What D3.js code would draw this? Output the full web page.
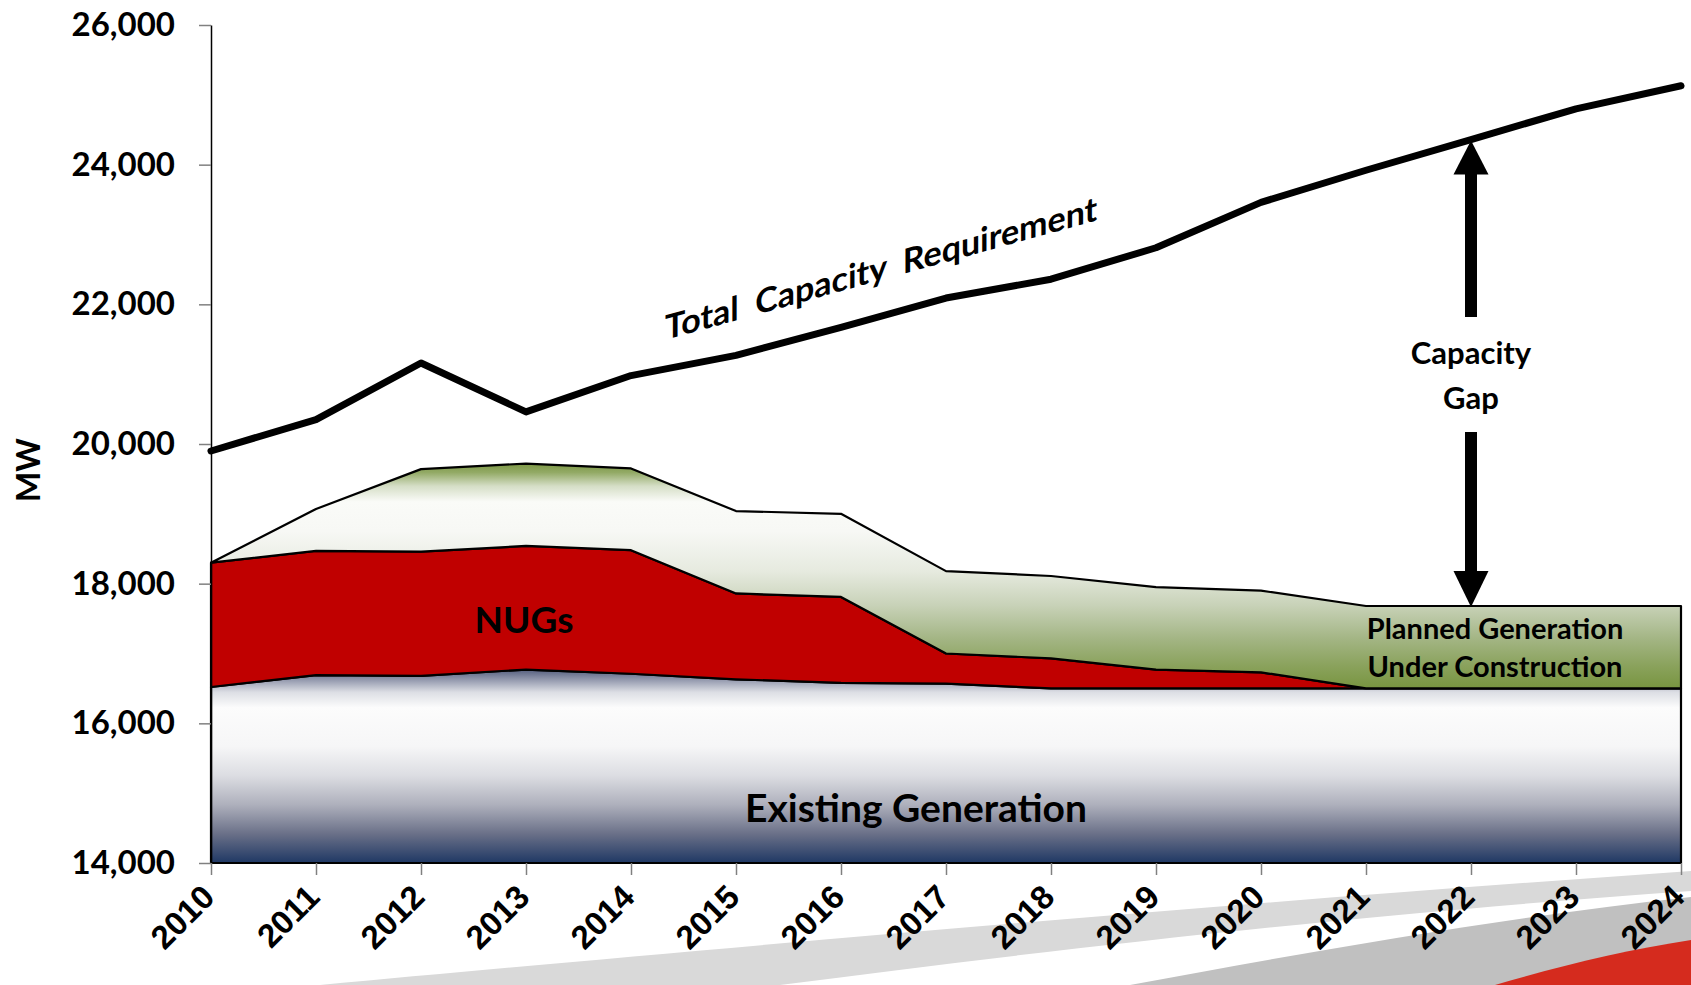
<!DOCTYPE html>
<html>
<head>
<meta charset="utf-8">
<script src="https://cdn.jsdelivr.net/npm/d3@7"></script>
<style>
  body { margin: 0; background: #fff; }
  text { font-family: Lato, "Open Sans", sans-serif; font-weight: bold; fill: #000; }
</style>
</head>
<body>
<script>
// values (MW)
var years = [2010, 2011, 2012, 2013, 2014, 2015, 2016, 2017, 2018, 2019, 2020, 2021, 2022, 2023, 2024];
var existing = [16520, 16690, 16680, 16770, 16710, 16630, 16580, 16570, 16500, 16500, 16500, 16500, 16500, 16500, 16500];
var nugs = [1780, 1780, 1780, 1770, 1770, 1230, 1230, 430, 430, 270, 230, 0, 0, 0, 0];
var planned = [0, 600, 1180, 1180, 1170, 1180, 1190, 1180, 1180, 1180, 1170, 1180, 1180, 1180, 1180];
var totalReq = [19900, 20350, 21160, 20460, 20980, 21270, 21670, 22090, 22360, 22810, 23460, 23920, 24360, 24800, 25130];
var yTicks = [14000, 16000, 18000, 20000, 22000, 24000, 26000];
var gapYear = 2022;

var width = 1691, height = 985;

var svg = d3.select("body").append("svg")
    .attr("width", width)
    .attr("height", height);

var x = d3.scaleLinear().domain([2010, 2024]).range([211, 1681]);
var y = d3.scaleLinear().domain([14000, 26000]).range([863, 25]);

// gradients
var defs = svg.append("defs");

var gExist = defs.append("linearGradient")
    .attr("id", "gradExisting")
    .attr("gradientUnits", "userSpaceOnUse")
    .attr("x1", 0).attr("x2", 0)
    .attr("y1", y(16780)).attr("y2", y(14000));
[[0, "#505a7a"], [0.05, "#8c92a8"], [0.12, "#dcdee4"], [0.2, "#fcfcfc"], [0.4, "#f6f6f7"],
 [0.55, "#dcdde2"], [0.7, "#aeb0bc"], [0.85, "#6a7088"], [1, "#1f3864"]].forEach(function(s){
    gExist.append("stop").attr("offset", s[0]).attr("stop-color", s[1]);
});

var gPlan = defs.append("linearGradient")
    .attr("id", "gradPlanned")
    .attr("gradientUnits", "userSpaceOnUse")
    .attr("x1", 0).attr("x2", 0)
    .attr("y1", y(19720)).attr("y2", y(16500));
[[0, "#7c9744"], [0.04, "#93aa66"], [0.1, "#d5dec6"], [0.17, "#fafbf8"], [0.3, "#f7f8f5"],
 [0.48, "#e6eadf"], [0.63, "#c8d2b8"], [0.78, "#a3b584"], [0.9, "#8aa25c"], [1, "#789540"]].forEach(function(s){
    gPlan.append("stop").attr("offset", s[0]).attr("stop-color", s[1]);
});

// template swoosh at the bottom right
var deco = svg.append("g");
deco.append("path")
    .attr("d", "M320,985 C700,950 1200,905 1691,871 L1691,891 C1350,915 1050,950 780,985 Z")
    .attr("fill", "#d9d9d9");
deco.append("path")
    .attr("d", "M1130,985 C1320,950 1500,918 1691,897 L1691,985 Z")
    .attr("fill", "#c0c0c0");
deco.append("path")
    .attr("d", "M1495,985 C1560,966 1625,950 1691,940 L1691,985 Z")
    .attr("fill", "#d52b1e");

// stacked areas
var rows = years.map(function(yr, i){
    return {year: yr, existing: existing[i], nugs: nugs[i], planned: planned[i]};
});
var series = d3.stack().keys(["existing", "nugs", "planned"])(rows);
var fills = {existing: "url(#gradExisting)", nugs: "#c00000", planned: "url(#gradPlanned)"};

var area = d3.area()
    .x(function(d){ return x(d.data.year); })
    .y0(function(d){ return y(Math.max(d[0], 14000)); })
    .y1(function(d){ return y(d[1]); });

svg.append("g")
    .selectAll("path")
    .data(series)
    .enter()
    .append("path")
    .attr("d", area)
    .attr("fill", function(d){ return fills[d.key]; })
    .attr("stroke", "#000")
    .attr("stroke-width", 2.2)
    .attr("stroke-linejoin", "round");

// total capacity requirement line
var line = d3.line()
    .x(function(d, i){ return x(years[i]); })
    .y(function(d){ return y(d); });

svg.append("path")
    .datum(totalReq)
    .attr("d", line)
    .attr("fill", "none")
    .attr("stroke", "#000")
    .attr("stroke-width", 7)
    .attr("stroke-linejoin", "round")
    .attr("stroke-linecap", "round");

// axes
var yAxis = svg.append("g")
    .attr("transform", "translate(211,0)")
    .call(d3.axisLeft(y).tickValues(yTicks).tickFormat(d3.format(",")).tickSize(12).tickPadding(24).tickSizeOuter(0));
yAxis.select(".domain").attr("stroke", "#000").attr("stroke-width", 1.5);
yAxis.selectAll(".tick line").attr("stroke", "#808080").attr("stroke-width", 1.5);
yAxis.selectAll(".tick text").style("font-size", "33px").style("font-family", "Lato");

var xAxis = svg.append("g")
    .attr("transform", "translate(0,863)")
    .call(d3.axisBottom(x).tickValues(years).tickFormat(d3.format("d")).tickSize(12).tickSizeOuter(0));
xAxis.select(".domain").remove();
xAxis.selectAll(".tick line").attr("stroke", "#808080").attr("stroke-width", 1.5);
xAxis.selectAll(".tick text")
    .attr("x", 0).attr("y", 0).attr("dy", 0)
    .attr("transform", "translate(5,36) rotate(-45)")
    .style("text-anchor", "end")
    .style("font-size", "33px")
    .style("font-family", "'Liberation Sans', Arial, sans-serif");

svg.append("text")
    .attr("transform", "translate(40,470) rotate(-90)")
    .attr("text-anchor", "middle")
    .style("font-size", "32px")
    .text("MW");

// capacity gap arrows
var gi = years.indexOf(gapYear);
var gx = x(gapYear);
var gTop = y(totalReq[gi]);
var gBottom = y(existing[gi] + nugs[gi] + planned[gi]);
var arrows = svg.append("g").attr("fill", "#000");
arrows.append("rect").attr("x", gx - 6).attr("y", gTop + 33).attr("width", 12).attr("height", 317 - gTop - 33);
arrows.append("path").attr("d", "M" + gx + "," + (gTop + 1) + " L" + (gx + 17.5) + "," + (gTop + 35) + " L" + (gx - 17.5) + "," + (gTop + 35) + " Z");
arrows.append("rect").attr("x", gx - 6).attr("y", 432).attr("width", 12).attr("height", gBottom - 33 - 432);
arrows.append("path").attr("d", "M" + gx + "," + (gBottom + 1) + " L" + (gx + 17.5) + "," + (gBottom - 35) + " L" + (gx - 17.5) + "," + (gBottom - 35) + " Z");

svg.append("text").attr("x", gx).attr("y", 364).attr("text-anchor", "middle").style("font-size", "31px").text("Capacity");
svg.append("text").attr("x", gx).attr("y", 409).attr("text-anchor", "middle").style("font-size", "31px").text("Gap");

// area labels
svg.append("text").attr("x", 524).attr("y", 633).attr("text-anchor", "middle").style("font-size", "37px").text("NUGs");
svg.append("text").attr("x", 916).attr("y", 822).attr("text-anchor", "middle").style("font-size", "39px").text("Existing Generation");
svg.append("text").attr("x", 1495).attr("y", 639).attr("text-anchor", "middle").style("font-size", "29px").text("Planned Generation");
svg.append("text").attr("x", 1495).attr("y", 677).attr("text-anchor", "middle").style("font-size", "29px").text("Under Construction");

svg.append("text")
    .attr("transform", "translate(665,340) skewY(-15.5)")
    .style("font-size", "34px")
    .style("white-space", "pre")
    .text("Total  Capacity  Requirement");
</script>
</body>
</html>
